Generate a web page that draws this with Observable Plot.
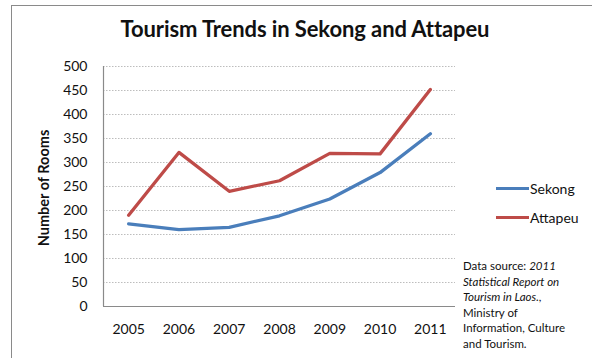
<!DOCTYPE html>
<html>
<head>
<meta charset="utf-8">
<script src="https://cdn.jsdelivr.net/npm/d3@7"></script>
<script src="https://cdn.jsdelivr.net/npm/@observablehq/plot@0.6"></script>
<style>
  html, body { margin: 0; padding: 0; background: #fff; }
  #wrap { position: relative; width: 592px; height: 358px; overflow: hidden; font-family: Lato, "Open Sans", sans-serif; color: #111; }
  #border { position: absolute; left: 11px; top: 5px; width: 700px; height: 500px; border: 1px solid #8a8a8a; box-sizing: border-box; }
  #chart { position: absolute; left: 0; top: 0; }
  #title { position: absolute; left: 105px; width: 400px; top: 15px; text-align: center; font-weight: bold; font-size: 22px; letter-spacing: -0.1px; white-space: nowrap; }
  #ylabel { position: absolute; left: 43px; top: 188px; transform: translate(-50%, -50%) rotate(-90deg); font-weight: bold; font-size: 14.5px; white-space: nowrap; }
  .leg { position: absolute; left: 496px; height: 20px; font-size: 14px; white-space: nowrap; }
  .leg .sw { position: absolute; left: 0; top: 8px; width: 33px; height: 3px; }
  .leg .tx { position: absolute; left: 34px; top: 0; line-height: 20px; }
  #caption { position: absolute; left: 463px; top: 258px; font-size: 11.5px; line-height: 15.6px; white-space: nowrap; }
</style>
</head>
<body>
<div id="wrap">
  <div id="border"></div>
  <div id="chart"></div>
  <div id="title"></div>
  <div id="ylabel"></div>
  <div id="legend"></div>
  <div id="caption">Data source: <i>2011</i><br><i>Statistical Report on</i><br><i>Tourism in Laos.</i>,<br>Ministry of<br>Information, Culture<br>and Tourism.</div>
</div>
<script>
const years = [2005, 2006, 2007, 2008, 2009, 2010, 2011];
const sekong = [172, 160, 165, 189, 224, 279, 360];
const attapeu = [190, 321, 240, 262, 319, 318, 452];
const seriesNames = ["Sekong", "Attapeu"];
const seriesColors = ["#4A7EBB", "#BE4B48"];
const yTicks = [0, 50, 100, 150, 200, 250, 300, 350, 400, 450, 500];
const titleText = "Tourism Trends in Sekong and Attapeu";
const yLabelText = "Number of Rooms";

const rows = [];
years.forEach((yr, i) => {
  rows.push({year: yr, value: sekong[i], series: seriesNames[0]});
  rows.push({year: yr, value: attapeu[i], series: seriesNames[1]});
});

document.getElementById("title").textContent = titleText;
document.getElementById("ylabel").textContent = yLabelText;

const legend = document.getElementById("legend");
seriesNames.forEach((name, i) => {
  const d = document.createElement("div");
  d.className = "leg";
  d.style.top = (179 + i * 29) + "px";
  d.innerHTML = `<div class="sw" style="background:${seriesColors[i]}"></div><div class="tx">${name}</div>`;
  legend.appendChild(d);
});

const chart = Plot.plot({
  width: 592,
  height: 358,
  marginLeft: 103,
  marginRight: 137,
  marginTop: 66,
  marginBottom: 52,
  style: {fontFamily: "Lato, 'Open Sans', sans-serif", fontSize: "14px", color: "#111", background: "transparent"},
  x: {domain: [years[0] - 0.5, years[years.length - 1] + 0.5]},
  y: {domain: [0, 500]},
  color: {domain: seriesNames, range: seriesColors},
  marks: [
    Plot.gridY(yTicks, {stroke: "#bdbdbd", strokeOpacity: 1, strokeDasharray: "1.5,1.5", strokeWidth: 1}),
    Plot.ruleY([0], {stroke: "#8a8a8a", strokeWidth: 1.2}),
    Plot.ruleX([years[0] - 0.5], {stroke: "#8a8a8a", strokeWidth: 1.2}),
    Plot.axisY(yTicks, {tickSize: 0, tickPadding: 16, label: null, fontSize: 14}),
    Plot.axisX(years, {tickSize: 0, tickPadding: 18, tickFormat: d => String(d), label: null, fontSize: 14}),
    Plot.line(rows, {x: "year", y: "value", z: "series", stroke: "series", strokeWidth: 3.3, strokeLinejoin: "round", strokeLinecap: "round"})
  ]
});
document.getElementById("chart").appendChild(chart);
</script>
</body>
</html>
